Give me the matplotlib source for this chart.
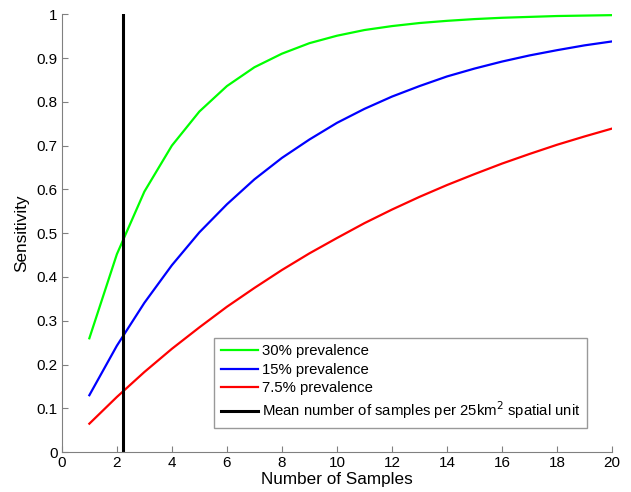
import matplotlib
matplotlib.use('Agg')
from matplotlib import pyplot as plt

plt.rcParams['font.family'] = ['Liberation Sans', 'DejaVu Sans']

n_samples = list(range(1, 21))
sens_30 = [0.260, 0.452, 0.595, 0.700, 0.778, 0.836, 0.879, 0.910, 0.934, 0.951,
           0.964, 0.973, 0.980, 0.985, 0.989, 0.992, 0.994, 0.996, 0.997, 0.998]
sens_15 = [0.130, 0.243, 0.341, 0.427, 0.502, 0.566, 0.623, 0.672, 0.714, 0.752,
           0.784, 0.812, 0.836, 0.858, 0.876, 0.892, 0.906, 0.918, 0.929, 0.938]
sens_75 = [0.065, 0.126, 0.183, 0.236, 0.285, 0.332, 0.375, 0.416, 0.454, 0.489,
           0.523, 0.554, 0.583, 0.610, 0.635, 0.659, 0.681, 0.702, 0.721, 0.739]
mean_samples = 2.24

fig = plt.figure(figsize=(6.31, 4.92), dpi=100)
ax = fig.add_axes([0.098, 0.081, 0.872, 0.890])

ax.plot(n_samples, sens_30, color='#00ff00', lw=1.6, label='30% prevalence')
ax.plot(n_samples, sens_15, color='#0000ff', lw=1.6, label='15% prevalence')
ax.plot(n_samples, sens_75, color='#ff0000', lw=1.6, label='7.5% prevalence')
ax.plot([mean_samples, mean_samples], [0, 1], color='black', lw=2.2,
        label='Mean number of samples per 25km$^2$ spatial unit')

ax.set_xlim(0, 20)
ax.set_ylim(0, 1)
ax.set_xticks(range(0, 21, 2))
ax.set_yticks([i / 10 for i in range(11)])
ax.set_yticklabels(['0', '0.1', '0.2', '0.3', '0.4', '0.5', '0.6', '0.7', '0.8', '0.9', '1'])
ax.set_xlabel('Number of Samples', fontsize=12.3, labelpad=1)
ax.set_ylabel('Sensitivity', fontsize=12.3, labelpad=5)

for s in ['top', 'right']:
    ax.spines[s].set_visible(False)
for s in ['left', 'bottom']:
    ax.spines[s].set_color('#808080')
ax.tick_params(direction='in', length=4, color='#808080', labelsize=11, pad=3)

leg = ax.legend(loc='lower right', bbox_to_anchor=(0.955, 0.055), fontsize=10.7,
                frameon=True, fancybox=False, handlelength=2.5, borderpad=0.45,
                labelspacing=0.3, handletextpad=0.3, borderaxespad=0)
leg.get_frame().set_edgecolor('#808080')
leg.get_frame().set_linewidth(1.0)

plt.savefig('out.png', dpi=100)
